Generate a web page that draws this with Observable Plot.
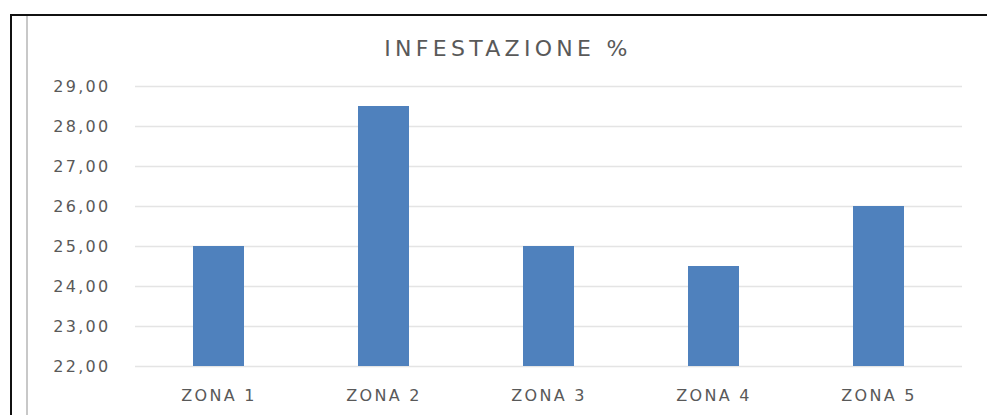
<!DOCTYPE html>
<html>
<head>
<meta charset="utf-8">
<script src="https://cdn.jsdelivr.net/npm/d3@7"></script>
<script src="https://cdn.jsdelivr.net/npm/@observablehq/plot@0.6"></script>
<style>
  html, body { margin: 0; padding: 0; background: #ffffff; }
  #wrap { position: relative; width: 987px; height: 415px; overflow: hidden; background: #fff; }
  #chart { position: absolute; left: 0; top: 0; }
  .border-top { position: absolute; left: 10px; top: 14px; width: 977px; height: 2px; background: #111; }
  .border-left { position: absolute; left: 10px; top: 14px; width: 2px; height: 401px; background: #111; }
  .inner-left { position: absolute; left: 26px; top: 16px; width: 1.5px; height: 399px; background: #c8c8c8; }
  #title { position: absolute; left: 0; width: 1016px; top: 36px; text-align: center;
           font-family: "DejaVu Sans", sans-serif; font-size: 22px; color: #595959; letter-spacing: 4.3px; }
  #chart text { letter-spacing: 2.3px; }
</style>
</head>
<body>
<div id="wrap">
  <div id="chart"></div>
  <div class="border-top"></div>
  <div class="border-left"></div>
  <div class="inner-left"></div>
  <div id="title">INFESTAZIONE %</div>
</div>
<script>
const zones = ["ZONA 1", "ZONA 2", "ZONA 3", "ZONA 4", "ZONA 5"];
const infestation = [25.0, 28.5, 25.0, 24.5, 26.0];
const yTicks = [22, 23, 24, 25, 26, 27, 28, 29];

const data = zones.map((z, i) => ({zone: z, value: infestation[i]}));
const fmt = d => d.toFixed(2).replace(".", ",");

const chart = Plot.plot({
  width: 987,
  height: 415,
  marginLeft: 135,
  marginRight: 25,
  marginTop: 86,
  marginBottom: 49,
  style: {fontFamily: "DejaVu Sans, sans-serif", fontSize: "16px", color: "#595959", background: "transparent", overflow: "visible"},
  x: {domain: zones, paddingInner: 0.69, paddingOuter: 0.345, label: null},
  y: {domain: [22, 29], label: null},
  marks: [
    Plot.ruleY(yTicks, {stroke: "#e4e4e4", strokeWidth: 1.6}),
    Plot.barY(data, {x: "zone", y1: 22, y2: "value", fill: "#4f81bd"}),
    Plot.axisX({tickSize: 0, tickPadding: 23, label: null, fill: "#595959"}),
    Plot.axisY({ticks: yTicks, tickSize: 0, tickPadding: 25, tickFormat: fmt, label: null, fill: "#595959"})
  ]
});
document.getElementById("chart").appendChild(chart);
</script>
</body>
</html>
